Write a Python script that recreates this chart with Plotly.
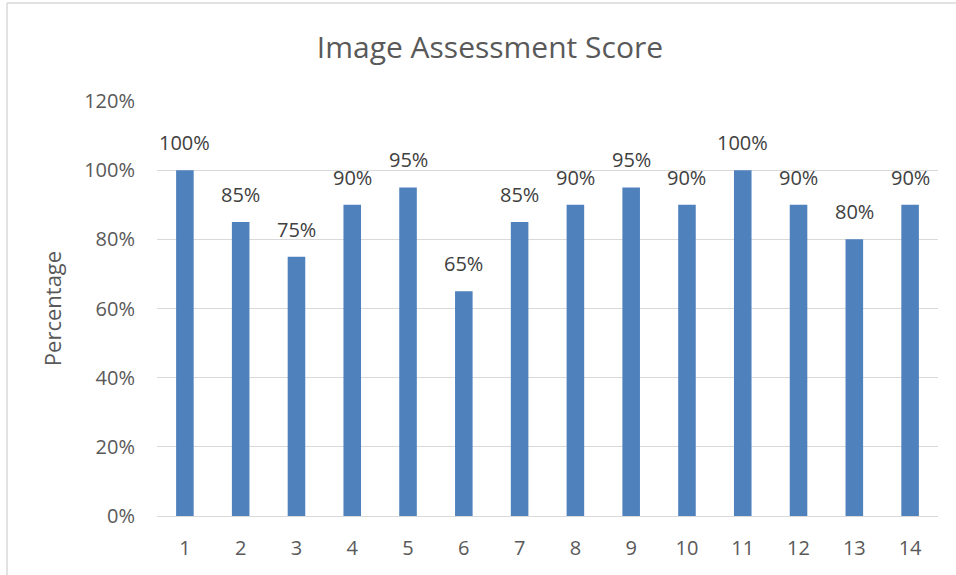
import plotly.graph_objects as go

# Image assessment scores per image (percent)
images = [str(i) for i in range(1, 15)]
scores = [100, 85, 75, 90, 95, 65, 85, 90, 95, 90, 100, 90, 80, 90]
y_ticks = [0, 20, 40, 60, 80, 100, 120]

bar_color = "#4f81bd"
text_color = "#595959"
font_family = "Open Sans, Segoe UI, sans-serif"

positions = list(range(len(images)))

fig = go.Figure(
    data=go.Bar(
        x=positions,
        y=scores,
        marker=dict(color=bar_color, line=dict(width=0)),
        customdata=images,
        hovertemplate="%{customdata}: %{y}%<extra></extra>",
    )
)

# Data labels above each bar
for pos, val in zip(positions, scores):
    fig.add_annotation(
        x=pos, y=val, text=f"{val}%", showarrow=False,
        yanchor="bottom", yshift=12,
        font=dict(size=20, color="#404040", family=font_family),
    )

fig.update_layout(
    width=956,
    height=575,
    margin=dict(l=157, r=18, t=101, b=59),
    paper_bgcolor="white",
    plot_bgcolor="white",
    bargap=0.685,
    showlegend=False,
    font=dict(family=font_family, color=text_color),
    title=dict(
        text="Image Assessment Score",
        x=0.5125, xanchor="center", y=0.918, yanchor="middle",
        font=dict(size=30, color=text_color, family=font_family),
    ),
    xaxis=dict(
        range=[-0.5, len(images) - 0.5],
        tickvals=positions,
        ticktext=images,
        showgrid=False,
        showline=True,
        linecolor="#d9d9d9",
        linewidth=1,
        zeroline=False,
        tickfont=dict(size=20, color=text_color),
        ticklabelstandoff=14,
    ),
    yaxis=dict(
        range=[0, 120],
        tickvals=y_ticks,
        ticktext=[f"{v}%" for v in y_ticks],
        showgrid=True,
        gridcolor="#d9d9d9",
        gridwidth=1,
        zeroline=False,
        showline=False,
        tickfont=dict(size=20, color=text_color),
        ticklabelstandoff=21,
        title=dict(text="Percentage", font=dict(size=22, color=text_color), standoff=16),
    ),
    shapes=[
        # chart border (left and top edges visible in crop)
        dict(type="line", xref="paper", yref="paper", x0=-150 / 781, x1=-150 / 781,
             y0=1 + 98 / 415, y1=-59 / 415, line=dict(color="#d9d9d9", width=1.5)),
        dict(type="line", xref="paper", yref="paper", x0=-150 / 781, x1=1 + 18 / 781,
             y0=1 + 98 / 415, y1=1 + 98 / 415, line=dict(color="#d9d9d9", width=1.5)),
    ],
)

fig.write_html(
    "out.html",
    config={"displayModeBar": False},
    post_script="document.body.style.margin='0px';",
)
